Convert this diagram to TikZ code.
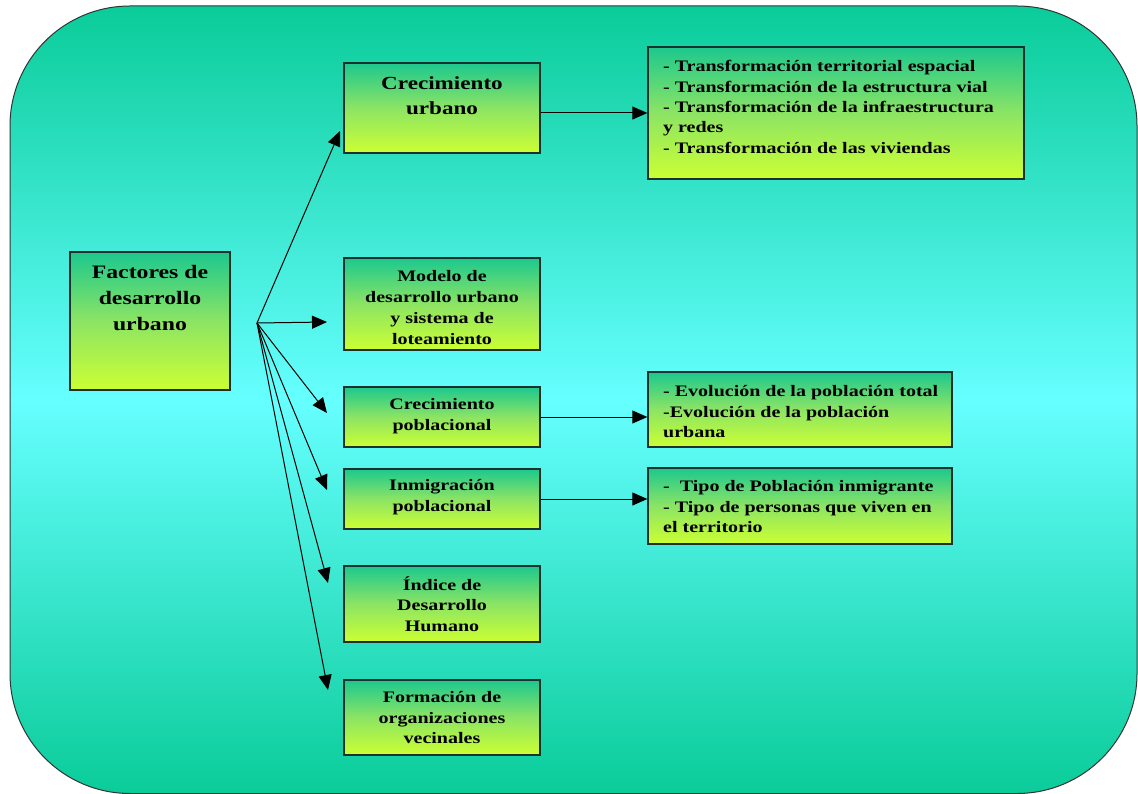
\documentclass[tikz,border=0pt]{standalone}
\usepackage{fontspec}
\setmainfont[FakeStretch=1.25]{Liberation Serif}
\usetikzlibrary{arrows.meta,shadings}
\definecolor{bgteal}{RGB}{10,204,153}
\definecolor{bgcyan}{RGB}{102,255,255}
\definecolor{boxtop}{RGB}{28,200,142}
\definecolor{boxmid}{RGB}{140,228,100}
\definecolor{boxbot}{RGB}{204,255,51}
\definecolor{boxline}{RGB}{30,50,45}
\tikzset{
  bgshape/.style={draw=black!80, line width=1pt, rounded corners=120pt,
    top color=bgteal, bottom color=bgteal, middle color=bgcyan},
  fbox/.style={draw=boxline, line width=1.3pt, top color=boxtop, bottom color=boxbot,
    middle color=boxmid, rectangle, inner sep=0pt},
  ctext/.style={align=center, inner sep=0pt, text=black},
  ltext/.style={align=left, inner sep=0pt, anchor=west, text=black,
    font=\fontsize{16}{20.5}\selectfont\bfseries},
  conn/.style={line width=1pt, -{Triangle[length=15pt,width=13pt]}},
}
\begin{document}
\begin{tikzpicture}[x=1pt,y=-1pt]
\useasboundingbox (0,0) rectangle (1138,794);
\path[bgshape] (10,6) rectangle (1137,793.5);

% boxes
\node[fbox, minimum width=160pt, minimum height=138pt] (fac) at (150,321) {};
\node[fbox, minimum width=196pt, minimum height=90pt] (cu) at (442,108) {};
\node[fbox, minimum width=196pt, minimum height=92pt] (mo) at (442,304) {};
\node[fbox, minimum width=196pt, minimum height=60pt] (cp) at (442,417) {};
\node[fbox, minimum width=196pt, minimum height=60pt] (im) at (442,499) {};
\node[fbox, minimum width=196pt, minimum height=76pt] (id) at (442,604) {};
\node[fbox, minimum width=196pt, minimum height=75pt] (fo) at (442,717.5) {};
\node[fbox, minimum width=376pt, minimum height=132pt] (r1) at (836,113) {};
\node[fbox, minimum width=304pt, minimum height=75pt] (r2) at (800,409.5) {};
\node[fbox, minimum width=304pt, minimum height=76pt] (r3) at (800,506) {};

% texts
\node[ctext, font=\fontsize{19}{26}\selectfont\bfseries] (tfac) at (150,298) {Factores de\\desarrollo\\urbano};
\node[ctext, font=\fontsize{18.5}{25}\selectfont\bfseries] (tcu) at (442,96) {Crecimiento\\urbano};
\node[ctext, font=\fontsize{16}{21}\selectfont\bfseries] (tmo) at (442,308) {Modelo de\\desarrollo urbano\\y sistema de\\loteamiento};
\node[ctext, font=\fontsize{16}{20.5}\selectfont\bfseries] (tcp) at (442,416) {Crecimiento\\poblacional};
\node[ctext, font=\fontsize{16}{20.5}\selectfont\bfseries] (tim) at (442,497) {Inmigración\\poblacional};
\node[ctext, font=\fontsize{16}{20.5}\selectfont\bfseries] (tid) at (442,604) {Índice de\\Desarrollo\\Humano};
\node[ctext, font=\fontsize{16}{20.5}\selectfont\bfseries] (tfo) at (442,718) {Formación de\\organizaciones\\vecinales};
\node[ltext, font=\fontsize{16}{20.3}\selectfont\bfseries] (tr1) at (663,107) {- Transformación territorial espacial\\- Transformación de la estructura vial\\- Transformación de la infraestructura\\y redes\\- Transformación de las viviendas};
\node[ltext] (tr2) at (663,412) {- Evolución de la población total\\-Evolución de la población\\urbana};
\node[ltext] (tr3) at (663,507) {-\ \ Tipo de Población inmigrante\\- Tipo de personas que viven en\\el territorio};

% connectors
\coordinate (o) at (257,323);
\coordinate (t1) at (340,131);
\coordinate (t2) at (327,322);
\coordinate (t3) at (327,413);
\coordinate (t4) at (327,490);
\coordinate (t5) at (328,583);
\coordinate (t6) at (328,690);
\foreach \t in {t1,t2,t3,t4,t5,t6} \draw[conn] (o) -- (\t);
\draw[conn] (cu.east |- r1.west) -- (r1.west);
\draw[conn] (cp.east) -- (cp.east -| r2.west);
\draw[conn] (im.east) -- (im.east -| r3.west);
\end{tikzpicture}
\end{document}
